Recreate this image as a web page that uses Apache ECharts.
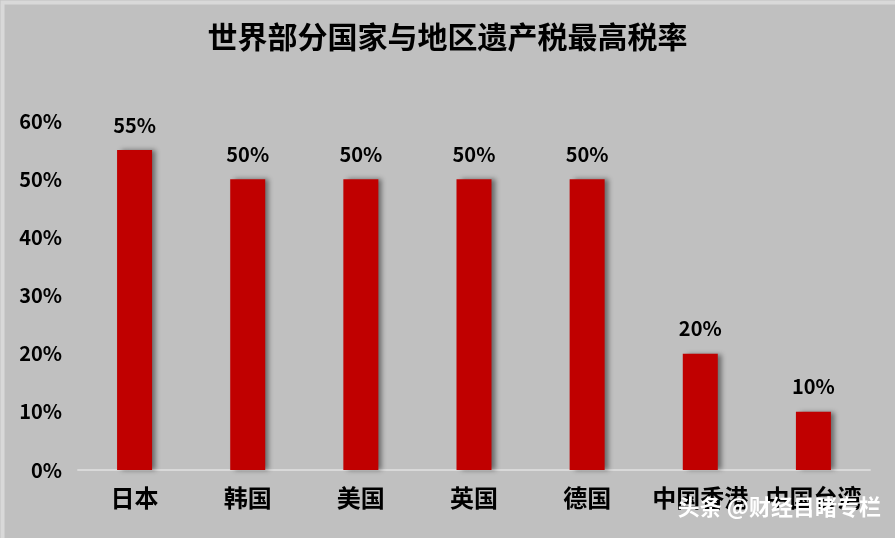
<!DOCTYPE html>
<html><head><meta charset="utf-8">
<script src="https://cdn.jsdelivr.net/npm/echarts@6/dist/echarts.min.js"></script>
<style>html,body{margin:0;padding:0;background:#c0c0c0;}#c{width:895px;height:538px;}</style>
</head><body><div id="c"></div>
<script>
var title = '世界部分国家与地区遗产税最高税率';
var categories = ['日本','韩国','美国','英国','德国','中国香港','中国台湾'];
var values = [55,50,50,50,50,20,10];
var yTicks = [0,10,20,30,40,50,60];
var watermark = '头条 @财经目睹专栏';
var F = '"Noto Sans CJK SC","Microsoft YaHei",sans-serif';
var chart = echarts.init(document.getElementById('c'));
chart.setOption({
  backgroundColor:'#c0c0c0',
  animation:false,
  title:{text:title,left:'center',top:17,textStyle:{fontFamily:F,fontSize:30,fontWeight:'bold',color:'#000'}},
  grid:{left:78,right:25,top:121,bottom:68},
  xAxis:{type:'category',data:categories,
    axisLine:{lineStyle:{color:'#d9d9d9',width:2}},axisTick:{show:false},
    axisLabel:{fontFamily:F,fontSize:24,fontWeight:'bold',color:'#000',margin:16,interval:0}},
  yAxis:{type:'value',min:yTicks[0],max:yTicks[yTicks.length-1],interval:10,
    splitLine:{show:false},axisLine:{show:false},axisTick:{show:false},
    axisLabel:{fontFamily:F,fontSize:20,fontWeight:'bold',color:'#000',margin:16,formatter:'{value}%'}},
  series:[{type:'bar',data:values,barWidth:35,
    itemStyle:{color:'#c00000',shadowColor:'rgba(0,0,0,0.45)',shadowOffsetX:4,shadowOffsetY:0,shadowBlur:5},
    label:{show:true,position:'top',distance:15,formatter:'{c}%',fontFamily:F,fontSize:20,fontWeight:'bold',color:'#000'}}],
  graphic:[
    {type:'rect',left:0,top:0,shape:{width:895,height:538},style:{fill:'none',stroke:'#d9d9d9',lineWidth:4},z:10,silent:true},
    {type:'text',right:14,top:496,z:20,style:{text:watermark,fill:'#fff',font:'bold 22px '+F,shadowColor:'rgba(0,0,0,0.9)',shadowBlur:2,shadowOffsetX:1.5,shadowOffsetY:1.5}}
  ]
});
</script></body></html>
